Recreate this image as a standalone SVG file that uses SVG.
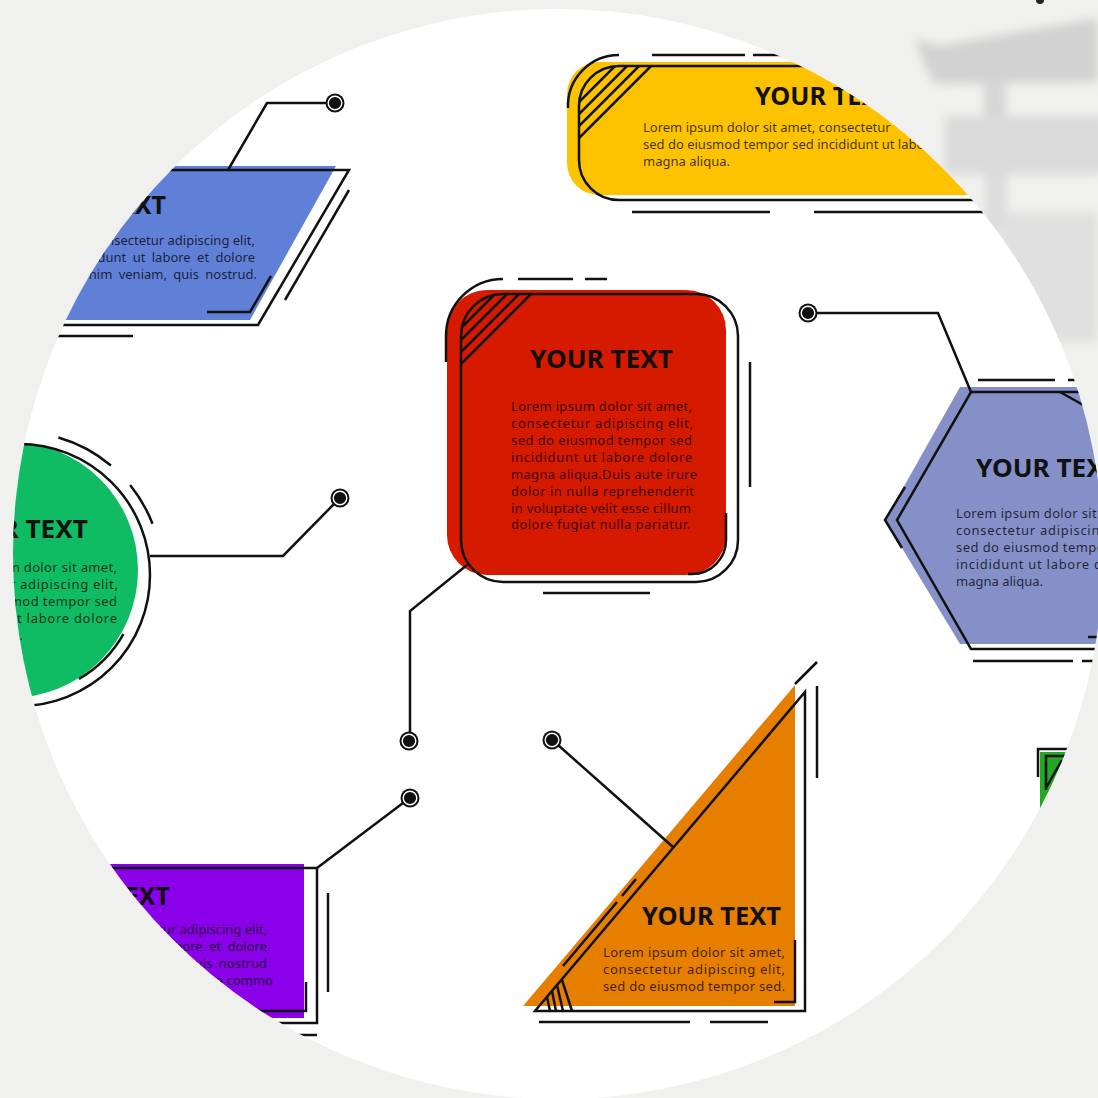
<svg xmlns="http://www.w3.org/2000/svg" width="1098" height="1098" viewBox="0 0 1098 1098">
<defs>
<style>
.ln{fill:none;stroke:#111;stroke-width:2.5;stroke-linecap:butt;stroke-linejoin:miter}
.tt{font-family:"Noto Sans","Liberation Sans",sans-serif;font-weight:700;font-size:25px;fill:#111}
.bd{font-family:"Noto Sans","Liberation Sans",sans-serif;font-size:13px;fill:#000;fill-opacity:0.75}
.dot{fill:#111}
.dotin{fill:#111;stroke:#fff;stroke-width:1.4}
</style>
<clipPath id="circ"><circle cx="558" cy="554" r="545"/></clipPath>
<clipPath id="yclip"><rect x="579" y="66" width="600" height="134" rx="40"/></clipPath>
<clipPath id="rclip"><rect x="461" y="294" width="277" height="288" rx="42"/></clipPath>
<filter id="soft" x="-20%" y="-20%" width="140%" height="140%"><feGaussianBlur stdDeviation="5"/></filter>
</defs>

<rect width="1098" height="1098" fill="#f0f0ee"/>
<g id="backdrop" filter="url(#soft)">
<path d="M915,38 Q940,50 960,42 L1098,18 L1098,82 L935,84 Q925,70 915,38 Z" fill="#d2d2d2"/>
<rect x="984" y="80" width="22" height="42" fill="#d6d6d6"/>
<rect x="945" y="116" width="160" height="58" fill="#dadada"/>
<rect x="985" y="174" width="22" height="60" fill="#dcdcdc"/>
<rect x="1000" y="212" width="98" height="130" fill="#e0e0e0"/>
</g>
<circle cx="1040" cy="0" r="4" fill="#222"/>

<circle cx="558" cy="554" r="545" fill="#ffffff"/>

<g clip-path="url(#circ)">

<g id="node-yellow">
<rect x="567" y="62" width="600" height="133" rx="32" fill="#fdc300"/>
<rect class="ln" x="579" y="66" width="600" height="134" rx="40"/>
<g clip-path="url(#yclip)">
<path class="ln" d="M651,66 L579,138 M639,66 L579,126 M627,66 L579,114 M615,66 L579,102"/>
</g>
<path class="ln" d="M568,108 A51,51 0 0 1 619,55"/>
<path class="ln" d="M652,55 H745 M753,55 H830"/>
<path class="ln" d="M632,212 H770 M814,212 H1000"/>
<text class="tt" x="755" y="105" font-size="24" textLength="138" lengthAdjust="spacingAndGlyphs">YOUR TEXT</text>
<text class="bd" x="643" y="132" font-size="12.5">Lorem ipsum dolor sit amet, consectetur</text>
<text class="bd" x="643" y="149" font-size="12.5">sed do eiusmod tempor sed incididunt ut labore</text>
<text class="bd" x="643" y="166" font-size="12.5">magna aliqua.</text>
</g>

<g id="node-blue">
<polygon points="0,166 336,166 250,320 0,320" fill="#607fd6"/>
<path class="ln" d="M0,170 H349 L258,325 H0"/>
<path class="ln" d="M349,190 L285,300"/>
<path class="ln" d="M207,312 H250 L271,276"/>
<path class="ln" d="M58,336 H133"/>
<text class="tt" x="166" y="214" text-anchor="end">YOUR TEXT</text>
<text class="bd" x="255" y="245" text-anchor="end">consectetur adipiscing elit,</text>
<text class="bd" x="255" y="262" text-anchor="end" word-spacing="3">incididunt ut labore et dolore</text>
<text class="bd" x="257" y="279" text-anchor="end" word-spacing="3">minim veniam, quis nostrud.</text>
</g>

<g id="node-red">
<rect x="447" y="290" width="279" height="285" rx="40" fill="#d61a00"/>
<rect class="ln" x="461" y="294" width="277" height="288" rx="42"/>
<g clip-path="url(#rclip)">
<path class="ln" d="M531,294 L461,364 M519,294 L461,352 M507,294 L461,340 M495,294 L461,328"/>
</g>
<path class="ln" d="M446,362 V336 A57,57 0 0 1 503,279"/>
<path class="ln" d="M518,279 H573 M585,279 H607"/>
<path class="ln" d="M750,362 V487"/>
<path class="ln" d="M726,513 V540 A34,34 0 0 1 692,574 H688"/>
<path class="ln" d="M543,593 H650"/>
<text class="tt" x="530" y="368" textLength="143" lengthAdjust="spacingAndGlyphs">YOUR TEXT</text>
<text class="bd" x="511" y="411" textLength="181" lengthAdjust="spacing">Lorem ipsum dolor sit amet,</text>
<text class="bd" x="511" y="428" textLength="182" lengthAdjust="spacing">consectetur adipiscing elit,</text>
<text class="bd" x="511" y="445" textLength="181" lengthAdjust="spacing">sed do eiusmod tempor sed</text>
<text class="bd" x="511" y="462" textLength="181" lengthAdjust="spacing">incididunt ut labore dolore</text>
<text class="bd" x="511" y="479" textLength="186" lengthAdjust="spacing">magna aliqua.Duis aute irure</text>
<text class="bd" x="511" y="496" textLength="183" lengthAdjust="spacing">dolor in nulla reprehenderit</text>
<text class="bd" x="511" y="513" textLength="180" lengthAdjust="spacing">in voluptate velit esse cillum</text>
<text class="bd" x="511" y="529" textLength="179" lengthAdjust="spacing">dolore fugiat nulla pariatur.</text>
</g>

<g id="node-hexagon">
<polygon points="960,387 1110,387 1110,644 960,644 885,520" fill="#8590c8"/>
<path class="ln" d="M1110,392 H971 L897,520 L971,649 H1110"/>
<path class="ln" d="M905,487 L885,520 L902,548"/>
<path class="ln" d="M1060,392 L1085,406"/>
<path class="ln" d="M978,380 H1055 M1068,380 H1098"/>
<path class="ln" d="M973,661 H1073 M1082,661 H1098"/>
<path class="ln" d="M1088,637 H1100"/>
<text class="tt" x="976" y="477" textLength="143" lengthAdjust="spacingAndGlyphs">YOUR TEXT</text>
<text class="bd" x="956" y="518" textLength="181" lengthAdjust="spacing">Lorem ipsum dolor sit amet,</text>
<text class="bd" x="956" y="535" textLength="182" lengthAdjust="spacing">consectetur adipiscing elit,</text>
<text class="bd" x="956" y="552" textLength="181" lengthAdjust="spacing">sed do eiusmod tempor sed</text>
<text class="bd" x="956" y="569" textLength="181" lengthAdjust="spacing">incididunt ut labore dolore</text>
<text class="bd" x="956" y="586">magna aliqua.</text>
</g>

<g id="node-green">
<circle cx="10" cy="570" r="128" fill="#10bc63"/>
<circle class="ln" cx="19" cy="575" r="131"/>
<path class="ln" d="M58.4,437.5 A143,143 0 0 1 110.9,465.5 M130.1,485 A143,143 0 0 1 152.5,523.8"/>
<path class="ln" d="M123.4,634.1 A120,120 0 0 1 79,678.9"/>
<text class="tt" x="-55" y="538" textLength="143" lengthAdjust="spacingAndGlyphs">YOUR TEXT</text>
<text class="bd" x="-64" y="572" textLength="181" lengthAdjust="spacing">Lorem ipsum dolor sit amet,</text>
<text class="bd" x="-64" y="589" textLength="182" lengthAdjust="spacing">consectetur adipiscing elit,</text>
<text class="bd" x="-64" y="606" textLength="181" lengthAdjust="spacing">sed do eiusmod tempor sed</text>
<text class="bd" x="-64" y="623" textLength="181" lengthAdjust="spacing">incididunt ut labore dolore</text>
<text class="bd" x="-64" y="640">magna aliqua.</text>
</g>

<g id="node-purple">
<rect x="0" y="864" width="304" height="154" fill="#8a00e8"/>
<path class="ln" d="M0,868 H317 V1023 H0"/>
<path class="ln" d="M298,1035 H317"/>
<path class="ln" d="M306,982 V1011 H0"/>
<path class="ln" d="M328,893 V992"/>
<text class="tt" x="170" y="905" text-anchor="end">YOUR TEXT</text>
<text class="bd" x="267" y="934" text-anchor="end">consectetur adipiscing elit,</text>
<text class="bd" x="267" y="951" text-anchor="end" word-spacing="3">ut labore et dolore</text>
<text class="bd" x="267" y="968" text-anchor="end" word-spacing="3">veniam, quis nostrud</text>
<text class="bd" x="273" y="985" text-anchor="end">ex ea commo</text>
</g>

<g id="node-orange">
<polygon points="795,685 795,1006 523,1006" fill="#e67e00"/>
<polygon class="ln" points="805,692 805,1011 535,1011"/>
<path class="ln" d="M795,684 L817,662 M817,686 V778"/>
<path class="ln" d="M636,879 L622,896 M617,902 L563,966"/>
<path class="ln" d="M547,997 L550,1011 M552,991 L556,1011 M557,985 L563,1011 M562,980 L572,1011"/>
<path class="ln" d="M795,940 V1002 H774"/>
<path class="ln" d="M539,1022 H690 M710,1022 H768"/>
<text class="tt" x="642" y="925" textLength="139" lengthAdjust="spacingAndGlyphs">YOUR TEXT</text>
<text class="bd" x="603" y="957" textLength="182" lengthAdjust="spacing">Lorem ipsum dolor sit amet,</text>
<text class="bd" x="603" y="974" textLength="182" lengthAdjust="spacing">consectetur adipiscing elit,</text>
<text class="bd" x="603" y="991" textLength="182" lengthAdjust="spacing">sed do eiusmod tempor sed.</text>
</g>

<g id="node-green-small">
<rect x="1040" y="752" width="70" height="150" fill="#22a822"/>
<path class="ln" d="M1038,777 V749 H1090"/>
<path class="ln" d="M1046,790 V756 H1068 M1046,788 L1062,760"/>
</g>

<g id="connectors">
<path class="ln" d="M228,170 L267,103 H327"/>
<path class="ln" d="M150,556 H283 L334,504"/>
<path class="ln" d="M816,313 H938 L971,392"/>
<path class="ln" d="M467,565 L410,611 V733"/>
<path class="ln" d="M317,868 L403,803"/>
<path class="ln" d="M558,745 L673,847"/>
<circle class="dot" cx="335" cy="103" r="9.5"/><circle class="dotin" cx="335" cy="103" r="6.8"/>
<circle class="dot" cx="340" cy="498" r="9.5"/><circle class="dotin" cx="340" cy="498" r="6.8"/>
<circle class="dot" cx="808" cy="313" r="9.5"/><circle class="dotin" cx="808" cy="313" r="6.8"/>
<circle class="dot" cx="409" cy="741" r="9.5"/><circle class="dotin" cx="409" cy="741" r="6.8"/>
<circle class="dot" cx="410" cy="798" r="9.5"/><circle class="dotin" cx="410" cy="798" r="6.8"/>
<circle class="dot" cx="552" cy="740" r="9.5"/><circle class="dotin" cx="552" cy="740" r="6.8"/>
</g>

</g>
</svg>
